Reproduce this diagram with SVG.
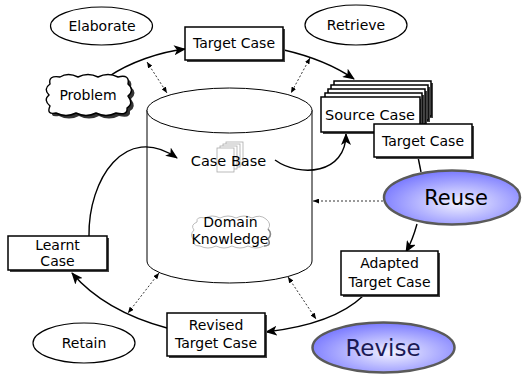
<svg xmlns="http://www.w3.org/2000/svg" width="526" height="376" viewBox="0 0 526 376">
<defs>
<style>
text{font-family:"DejaVu Sans","Liberation Sans",sans-serif;font-size:14px;fill:#000;text-anchor:middle}
.box{fill:#fff;stroke:#000;stroke-width:1.5}
.shadow{fill:#444;stroke:none}
.oval{fill:#fff;stroke:#000;stroke-width:1.2}
.blue{fill:url(#g);stroke:#5a5a5a;stroke-width:2.5}
.conn{fill:none;stroke:#000;stroke-width:1.4}
.dot{fill:none;stroke:#000;stroke-width:0.8;stroke-dasharray:2,2}
.cyl{fill:#fff;stroke:#000;stroke-width:1}
</style>
<radialGradient id="g" cx="0.55" cy="0.6" r="0.6">
<stop offset="0" stop-color="#f2f2ff"/>
<stop offset="1" stop-color="#7a7aff"/>
</radialGradient>
<marker id="ah" markerWidth="12" markerHeight="10" refX="11" refY="5" orient="auto" markerUnits="userSpaceOnUse">
<path d="M0,0 L12,5 L0,10 L3,5 Z" fill="#000"/>
</marker>
<marker id="sh" markerWidth="6" markerHeight="5" refX="6" refY="2.5" orient="auto" markerUnits="userSpaceOnUse">
<path d="M0,0 L6,2.5 L0,5 Z" fill="#000"/>
</marker>
<marker id="shs" markerWidth="6" markerHeight="5" refX="0" refY="2.5" orient="auto" markerUnits="userSpaceOnUse">
<path d="M6,0 L0,2.5 L6,5 Z" fill="#000"/>
</marker>
</defs>
<rect width="526" height="376" fill="#fff"/>

<g id="case-base-cylinder">
<path class="cyl" d="M147 110 L147 261 A82.5 22 0 0 0 312 261 L312 110"/>
<ellipse class="cyl" cx="229.5" cy="110.5" rx="82.5" ry="22.5"/>
</g>

<g id="case-base">
<g fill="#fff" stroke="#aaa" stroke-width="0.8">
<rect x="226" y="142" width="17" height="23"/>
<rect x="223" y="144" width="17" height="23"/>
<rect x="220" y="146" width="17" height="23"/>
<rect x="217" y="148" width="17" height="24"/>
</g>
<text x="228.5" y="166" style="font-size:14.5px">Case Base</text>
</g>

<g id="domain-knowledge">
<path d="M197 222 Q196 216 205 218 Q212 214 220 218 Q228 214 236 218 Q244 214 252 218 Q260 214 266 219 Q272 224 268 229 Q273 234 268 239 Q272 246 264 246 Q256 250 248 246 Q240 250 232 246 Q224 250 216 246 Q208 250 200 246 Q192 246 194 240 Q189 235 194 230 Q190 225 197 222 Z" fill="#fff" stroke="#aaa" stroke-width="0.8"/>
<path d="M268 229 Q273 234 268 239 Q272 246 264 246" fill="none" stroke="#888" stroke-width="1.5"/>
<text x="230.5" y="227">Domain</text>
<text x="230" y="244">Knowledge</text>
</g>

<g id="connectors">
<path class="conn" d="M108 77 C130 62 160 52 185 49" marker-end="url(#ah)"/>
<path class="conn" d="M284 50 C310 56 335 66 354 79" marker-end="url(#ah)"/>
<path class="conn" d="M275 160 C300 178 346 174 346 134" marker-end="url(#ah)"/>
<path class="conn" d="M418 157 L421 172"/>
<path class="conn" d="M417 224 C414 235 411 243 406 252" marker-end="url(#ah)"/>
<path class="conn" d="M363 296 C340 318 300 328 266 332" marker-end="url(#ah)"/>
<path class="conn" d="M167 328 C130 318 95 300 72 273" marker-end="url(#ah)"/>
<path class="conn" d="M89 236 C88 180 125 122 177 158" marker-end="url(#ah)"/>
<path class="dot" d="M147 62 L167 93" marker-start="url(#shs)" marker-end="url(#sh)"/>
<path class="dot" d="M310 58 L291 93" marker-start="url(#shs)" marker-end="url(#sh)"/>
<path class="dot" d="M383 201 L313 201" marker-end="url(#sh)"/>
<path class="dot" d="M288 277 L316 319" marker-start="url(#shs)" marker-end="url(#sh)"/>
<path class="dot" d="M159 273 L128 313" marker-start="url(#shs)" marker-end="url(#sh)"/>
</g>

<g id="elaborate">
<ellipse class="oval" cx="101.5" cy="26" rx="51" ry="19"/>
<text x="102" y="31">Elaborate</text>
</g>

<g id="retrieve">
<ellipse class="oval" cx="356" cy="25" rx="51" ry="20"/>
<text x="356" y="30">Retrieve</text>
</g>

<g id="retain">
<ellipse class="oval" cx="84" cy="343" rx="51" ry="20"/>
<text x="84" y="348">Retain</text>
</g>

<g id="problem">
<path transform="translate(3,3)" d="M50 84 Q48 75 60 77 Q68 72 78 77 Q88 72 98 77 Q108 72 118 77 Q130 74 128 84 Q135 90 128 96 Q134 104 127 108 Q128 116 116 113 Q106 118 96 113 Q86 118 76 113 Q66 118 56 113 Q46 115 50 106 Q43 100 49 95 Q43 89 50 84 Z" fill="#333"/>
<path d="M50 84 Q48 75 60 77 Q68 72 78 77 Q88 72 98 77 Q108 72 118 77 Q130 74 128 84 Q135 90 128 96 Q134 104 127 108 Q128 116 116 113 Q106 118 96 113 Q86 118 76 113 Q66 118 56 113 Q46 115 50 106 Q43 100 49 95 Q43 89 50 84 Z" fill="#fff" stroke="#000" stroke-width="1.4"/>
<text x="88" y="100">Problem</text>
</g>

<g id="target-case-top">
<rect class="shadow" x="187" y="29" width="98" height="33"/>
<rect class="box" x="185" y="27" width="98" height="33"/>
<text x="234" y="48">Target Case</text>
</g>

<g id="source-case">
<rect class="shadow" x="336" y="83" width="97" height="35"/>
<rect class="box" x="334" y="81" width="97" height="35"/>
<rect class="shadow" x="333" y="87" width="97" height="35"/>
<rect class="box" x="331" y="85" width="97" height="35"/>
<rect class="shadow" x="330" y="91" width="97" height="35"/>
<rect class="box" x="328" y="89" width="97" height="35"/>
<rect class="shadow" x="327" y="95" width="97" height="35"/>
<rect class="box" x="325" y="93" width="97" height="35"/>
<rect class="shadow" x="323" y="99" width="99" height="35"/>
<rect class="box" x="321" y="97" width="99" height="35"/>
<text x="370" y="120" style="font-size:14.5px">Source Case</text>
</g>

<g id="target-case-2">
<rect class="shadow" x="376" y="126" width="98" height="33"/>
<rect class="box" x="374" y="124" width="98" height="33"/>
<text x="423" y="146">Target Case</text>
</g>

<g id="reuse">
<ellipse class="blue" cx="452" cy="197.5" rx="68" ry="27"/>
<text x="456" y="205" style="font-size:21px">Reuse</text>
</g>

<g id="adapted-target-case">
<rect class="shadow" x="343" y="253" width="97" height="44"/>
<rect class="box" x="341" y="251" width="97" height="44"/>
<text x="389.5" y="268">Adapted</text>
<text x="389.5" y="287">Target Case</text>
</g>

<g id="revise">
<ellipse class="blue" cx="383.5" cy="347.5" rx="71" ry="25"/>
<text x="383" y="356" style="font-size:23px;fill:#1a1a55">Revise</text>
</g>

<g id="revised-target-case">
<rect class="shadow" x="169" y="315" width="98" height="43"/>
<rect class="box" x="167" y="313" width="98" height="43"/>
<text x="216" y="330">Revised</text>
<text x="216" y="348">Target Case</text>
</g>

<g id="learnt-case">
<rect class="shadow" x="10" y="238" width="99" height="34"/>
<rect class="box" x="8" y="236" width="99" height="34"/>
<text x="57.5" y="250">Learnt</text>
<text x="57.5" y="266">Case</text>
</g>
</svg>
